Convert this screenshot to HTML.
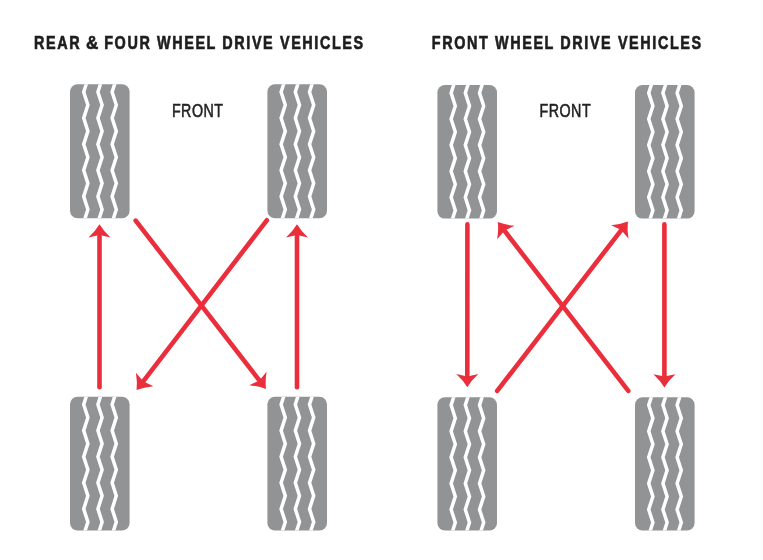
<!DOCTYPE html>
<html><head><meta charset="utf-8"><style>
html,body{margin:0;padding:0;background:#fff;width:763px;height:560px;overflow:hidden}
svg{display:block;will-change:transform}
</style></head><body>
<svg width="763" height="560" viewBox="0 0 763 560">
<rect width="763" height="560" fill="#fff"/>
<defs>
<clipPath id="c0"><rect x="70" y="84.2" width="59.6" height="134.1" rx="7.5"/></clipPath>
<clipPath id="c1"><rect x="267.4" y="84.2" width="59.6" height="134.1" rx="7.5"/></clipPath>
<clipPath id="c2"><rect x="70" y="396.7" width="59.6" height="133.8" rx="7.5"/></clipPath>
<clipPath id="c3"><rect x="267.4" y="396.7" width="59.6" height="133.8" rx="7.5"/></clipPath>
<clipPath id="c4"><rect x="437.4" y="85.1" width="59.6" height="133.5" rx="7.5"/></clipPath>
<clipPath id="c5"><rect x="635" y="85.1" width="59.6" height="133.5" rx="7.5"/></clipPath>
<clipPath id="c6"><rect x="437.4" y="397.3" width="59.6" height="133.2" rx="7.5"/></clipPath>
<clipPath id="c7"><rect x="635" y="397.3" width="59.6" height="133.2" rx="7.5"/></clipPath>
</defs>
<rect x="70" y="84.2" width="59.6" height="134.1" rx="7.5" fill="#919395"/>
<g clip-path="url(#c0)" fill="none" stroke="#fff" stroke-width="3.5" stroke-linejoin="miter">
<polyline points="83.70,65.90 87.90,78.95 83.70,92.00 87.90,105.05 83.70,118.10 87.90,131.15 83.70,144.20 87.90,157.25 83.70,170.30 87.90,183.35 83.70,196.40 87.90,209.45 83.70,222.50 87.90,235.55 83.70,248.60 87.90,261.65"/>
<polyline points="97.90,65.90 102.10,78.95 97.90,92.00 102.10,105.05 97.90,118.10 102.10,131.15 97.90,144.20 102.10,157.25 97.90,170.30 102.10,183.35 97.90,196.40 102.10,209.45 97.90,222.50 102.10,235.55 97.90,248.60 102.10,261.65"/>
<polyline points="112.10,65.90 116.30,78.95 112.10,92.00 116.30,105.05 112.10,118.10 116.30,131.15 112.10,144.20 116.30,157.25 112.10,170.30 116.30,183.35 112.10,196.40 116.30,209.45 112.10,222.50 116.30,235.55 112.10,248.60 116.30,261.65"/>
</g>
<rect x="267.4" y="84.2" width="59.6" height="134.1" rx="7.5" fill="#919395"/>
<g clip-path="url(#c1)" fill="none" stroke="#fff" stroke-width="3.5" stroke-linejoin="miter">
<polyline points="281.10,65.90 285.30,78.95 281.10,92.00 285.30,105.05 281.10,118.10 285.30,131.15 281.10,144.20 285.30,157.25 281.10,170.30 285.30,183.35 281.10,196.40 285.30,209.45 281.10,222.50 285.30,235.55 281.10,248.60 285.30,261.65"/>
<polyline points="295.30,65.90 299.50,78.95 295.30,92.00 299.50,105.05 295.30,118.10 299.50,131.15 295.30,144.20 299.50,157.25 295.30,170.30 299.50,183.35 295.30,196.40 299.50,209.45 295.30,222.50 299.50,235.55 295.30,248.60 299.50,261.65"/>
<polyline points="309.50,65.90 313.70,78.95 309.50,92.00 313.70,105.05 309.50,118.10 313.70,131.15 309.50,144.20 313.70,157.25 309.50,170.30 313.70,183.35 309.50,196.40 313.70,209.45 309.50,222.50 313.70,235.55 309.50,248.60 313.70,261.65"/>
</g>
<rect x="70" y="396.7" width="59.6" height="133.8" rx="7.5" fill="#919395"/>
<g clip-path="url(#c2)" fill="none" stroke="#fff" stroke-width="3.5" stroke-linejoin="miter">
<polyline points="83.70,378.40 87.90,391.45 83.70,404.50 87.90,417.55 83.70,430.60 87.90,443.65 83.70,456.70 87.90,469.75 83.70,482.80 87.90,495.85 83.70,508.90 87.90,521.95 83.70,535.00 87.90,548.05 83.70,561.10 87.90,574.15"/>
<polyline points="97.90,378.40 102.10,391.45 97.90,404.50 102.10,417.55 97.90,430.60 102.10,443.65 97.90,456.70 102.10,469.75 97.90,482.80 102.10,495.85 97.90,508.90 102.10,521.95 97.90,535.00 102.10,548.05 97.90,561.10 102.10,574.15"/>
<polyline points="112.10,378.40 116.30,391.45 112.10,404.50 116.30,417.55 112.10,430.60 116.30,443.65 112.10,456.70 116.30,469.75 112.10,482.80 116.30,495.85 112.10,508.90 116.30,521.95 112.10,535.00 116.30,548.05 112.10,561.10 116.30,574.15"/>
</g>
<rect x="267.4" y="396.7" width="59.6" height="133.8" rx="7.5" fill="#919395"/>
<g clip-path="url(#c3)" fill="none" stroke="#fff" stroke-width="3.5" stroke-linejoin="miter">
<polyline points="281.10,378.40 285.30,391.45 281.10,404.50 285.30,417.55 281.10,430.60 285.30,443.65 281.10,456.70 285.30,469.75 281.10,482.80 285.30,495.85 281.10,508.90 285.30,521.95 281.10,535.00 285.30,548.05 281.10,561.10 285.30,574.15"/>
<polyline points="295.30,378.40 299.50,391.45 295.30,404.50 299.50,417.55 295.30,430.60 299.50,443.65 295.30,456.70 299.50,469.75 295.30,482.80 299.50,495.85 295.30,508.90 299.50,521.95 295.30,535.00 299.50,548.05 295.30,561.10 299.50,574.15"/>
<polyline points="309.50,378.40 313.70,391.45 309.50,404.50 313.70,417.55 309.50,430.60 313.70,443.65 309.50,456.70 313.70,469.75 309.50,482.80 313.70,495.85 309.50,508.90 313.70,521.95 309.50,535.00 313.70,548.05 309.50,561.10 313.70,574.15"/>
</g>
<rect x="437.4" y="85.1" width="59.6" height="133.5" rx="7.5" fill="#919395"/>
<g clip-path="url(#c4)" fill="none" stroke="#fff" stroke-width="3.5" stroke-linejoin="miter">
<polyline points="451.10,66.80 455.30,79.85 451.10,92.90 455.30,105.95 451.10,119.00 455.30,132.05 451.10,145.10 455.30,158.15 451.10,171.20 455.30,184.25 451.10,197.30 455.30,210.35 451.10,223.40 455.30,236.45 451.10,249.50 455.30,262.55"/>
<polyline points="465.30,66.80 469.50,79.85 465.30,92.90 469.50,105.95 465.30,119.00 469.50,132.05 465.30,145.10 469.50,158.15 465.30,171.20 469.50,184.25 465.30,197.30 469.50,210.35 465.30,223.40 469.50,236.45 465.30,249.50 469.50,262.55"/>
<polyline points="479.50,66.80 483.70,79.85 479.50,92.90 483.70,105.95 479.50,119.00 483.70,132.05 479.50,145.10 483.70,158.15 479.50,171.20 483.70,184.25 479.50,197.30 483.70,210.35 479.50,223.40 483.70,236.45 479.50,249.50 483.70,262.55"/>
</g>
<rect x="635" y="85.1" width="59.6" height="133.5" rx="7.5" fill="#919395"/>
<g clip-path="url(#c5)" fill="none" stroke="#fff" stroke-width="3.5" stroke-linejoin="miter">
<polyline points="648.70,66.80 652.90,79.85 648.70,92.90 652.90,105.95 648.70,119.00 652.90,132.05 648.70,145.10 652.90,158.15 648.70,171.20 652.90,184.25 648.70,197.30 652.90,210.35 648.70,223.40 652.90,236.45 648.70,249.50 652.90,262.55"/>
<polyline points="662.90,66.80 667.10,79.85 662.90,92.90 667.10,105.95 662.90,119.00 667.10,132.05 662.90,145.10 667.10,158.15 662.90,171.20 667.10,184.25 662.90,197.30 667.10,210.35 662.90,223.40 667.10,236.45 662.90,249.50 667.10,262.55"/>
<polyline points="677.10,66.80 681.30,79.85 677.10,92.90 681.30,105.95 677.10,119.00 681.30,132.05 677.10,145.10 681.30,158.15 677.10,171.20 681.30,184.25 677.10,197.30 681.30,210.35 677.10,223.40 681.30,236.45 677.10,249.50 681.30,262.55"/>
</g>
<rect x="437.4" y="397.3" width="59.6" height="133.2" rx="7.5" fill="#919395"/>
<g clip-path="url(#c6)" fill="none" stroke="#fff" stroke-width="3.5" stroke-linejoin="miter">
<polyline points="451.10,379.00 455.30,392.05 451.10,405.10 455.30,418.15 451.10,431.20 455.30,444.25 451.10,457.30 455.30,470.35 451.10,483.40 455.30,496.45 451.10,509.50 455.30,522.55 451.10,535.60 455.30,548.65 451.10,561.70 455.30,574.75"/>
<polyline points="465.30,379.00 469.50,392.05 465.30,405.10 469.50,418.15 465.30,431.20 469.50,444.25 465.30,457.30 469.50,470.35 465.30,483.40 469.50,496.45 465.30,509.50 469.50,522.55 465.30,535.60 469.50,548.65 465.30,561.70 469.50,574.75"/>
<polyline points="479.50,379.00 483.70,392.05 479.50,405.10 483.70,418.15 479.50,431.20 483.70,444.25 479.50,457.30 483.70,470.35 479.50,483.40 483.70,496.45 479.50,509.50 483.70,522.55 479.50,535.60 483.70,548.65 479.50,561.70 483.70,574.75"/>
</g>
<rect x="635" y="397.3" width="59.6" height="133.2" rx="7.5" fill="#919395"/>
<g clip-path="url(#c7)" fill="none" stroke="#fff" stroke-width="3.5" stroke-linejoin="miter">
<polyline points="648.70,379.00 652.90,392.05 648.70,405.10 652.90,418.15 648.70,431.20 652.90,444.25 648.70,457.30 652.90,470.35 648.70,483.40 652.90,496.45 648.70,509.50 652.90,522.55 648.70,535.60 652.90,548.65 648.70,561.70 652.90,574.75"/>
<polyline points="662.90,379.00 667.10,392.05 662.90,405.10 667.10,418.15 662.90,431.20 667.10,444.25 662.90,457.30 667.10,470.35 662.90,483.40 667.10,496.45 662.90,509.50 667.10,522.55 662.90,535.60 667.10,548.65 662.90,561.70 667.10,574.75"/>
<polyline points="677.10,379.00 681.30,392.05 677.10,405.10 681.30,418.15 677.10,431.20 681.30,444.25 677.10,457.30 681.30,470.35 677.10,483.40 681.30,496.45 677.10,509.50 681.30,522.55 677.10,535.60 681.30,548.65 677.10,561.70 681.30,574.75"/>
</g>
<line x1="99.50" y1="387.20" x2="99.50" y2="236.10" stroke="#ea2e3c" stroke-width="4.6" stroke-linecap="round"/><path d="M99.50,224.30 Q103.40,230.90 110.50,237.50 L99.50,235.10 L88.50,237.50 Q95.60,230.90 99.50,224.30Z" fill="#ea2e3c"/>
<line x1="297.00" y1="387.20" x2="297.00" y2="236.10" stroke="#ea2e3c" stroke-width="4.6" stroke-linecap="round"/><path d="M297.00,224.30 Q300.90,230.90 308.00,237.50 L297.00,235.10 L286.00,237.50 Q293.10,230.90 297.00,224.30Z" fill="#ea2e3c"/>
<line x1="135.70" y1="220.60" x2="258.78" y2="379.67" stroke="#ea2e3c" stroke-width="4.6" stroke-linecap="round"/><path d="M266.00,389.00 Q258.88,386.17 249.22,385.29 L259.39,380.46 L266.62,371.83 Q265.05,381.39 266.00,389.00Z" fill="#ea2e3c"/>
<line x1="266.80" y1="220.30" x2="143.79" y2="380.54" stroke="#ea2e3c" stroke-width="4.6" stroke-linecap="round"/><path d="M136.60,389.90 Q137.53,382.29 135.91,372.73 L143.18,381.33 L153.36,386.13 Q143.71,387.04 136.60,389.90Z" fill="#ea2e3c"/>
<line x1="467.40" y1="224.40" x2="467.31" y2="375.40" stroke="#ea2e3c" stroke-width="4.6" stroke-linecap="round"/><path d="M467.30,387.20 Q463.40,380.60 456.31,373.99 L467.31,376.40 L478.31,374.01 Q471.20,380.60 467.30,387.20Z" fill="#ea2e3c"/>
<line x1="664.40" y1="224.40" x2="664.40" y2="375.60" stroke="#ea2e3c" stroke-width="4.6" stroke-linecap="round"/><path d="M664.40,387.40 Q660.50,380.80 653.40,374.20 L664.40,376.60 L675.40,374.20 Q668.30,380.80 664.40,387.40Z" fill="#ea2e3c"/>
<line x1="497.20" y1="390.90" x2="620.69" y2="230.84" stroke="#ea2e3c" stroke-width="4.6" stroke-linecap="round"/><path d="M627.90,221.50 Q626.96,229.11 628.55,238.67 L621.30,230.05 L611.13,225.23 Q620.78,224.34 627.90,221.50Z" fill="#ea2e3c"/>
<line x1="628.30" y1="390.90" x2="505.02" y2="231.44" stroke="#ea2e3c" stroke-width="4.6" stroke-linecap="round"/><path d="M497.80,222.10 Q504.92,224.94 514.58,225.82 L504.41,230.64 L497.17,239.27 Q498.75,229.71 497.80,222.10Z" fill="#ea2e3c"/>
<g fill="#1e1e1e" stroke="#1e1e1e" stroke-width="0.6" font-family="Liberation Sans, sans-serif" font-weight="bold" font-size="19.2" letter-spacing="2.133">
<text transform="translate(34.1,48.95) scale(0.75,1)" vector-effect="non-scaling-stroke">REAR</text>
<text transform="translate(86.0,48.95) scale(0.89,1)" vector-effect="non-scaling-stroke">&amp;</text>
<text transform="translate(104.2,48.95) scale(0.75,1)" vector-effect="non-scaling-stroke">FOUR WHEEL DRIVE VEHICLES</text>
<text transform="translate(431.8,48.95) scale(0.75,1)" vector-effect="non-scaling-stroke">FRONT WHEEL DRIVE VEHICLES</text>
</g>
<g fill="#222222" stroke="#222222" stroke-width="0.5" font-family="Liberation Sans, sans-serif" font-size="18.3" letter-spacing="0.641">
<text transform="translate(171.9,117) scale(0.78,1)" vector-effect="non-scaling-stroke">FRONT</text>
<text transform="translate(539.5,117) scale(0.78,1)" vector-effect="non-scaling-stroke">FRONT</text>
</g>
</svg>
</body></html>
